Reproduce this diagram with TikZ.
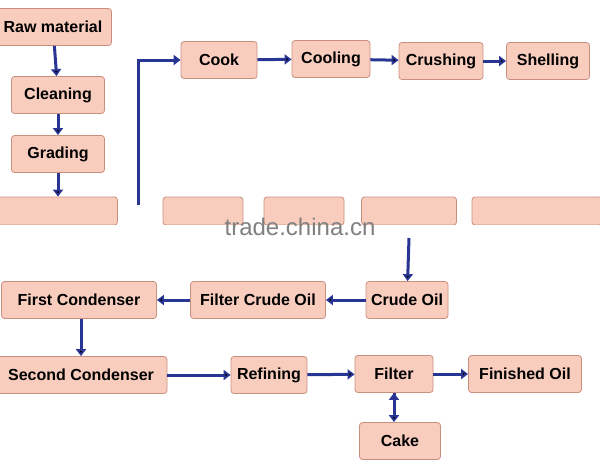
\documentclass[tikz,border=0pt]{standalone}
\usepackage{fontspec}
\setmainfont{Liberation Sans}
\usetikzlibrary{positioning, arrows.meta}
\definecolor{boxfill}{HTML}{F9CDBE}
\definecolor{boxline}{HTML}{C98F7E}
\definecolor{flow}{HTML}{283593}
\tikzset{
stage/.style={draw=boxline, fill=boxfill, rounded corners=3pt, line width=0.8pt,
  font=\fontsize{16}{18}\selectfont\bfseries, inner sep=0pt, minimum height=37pt}, % process boxes
flowarrow/.style={draw=flow, line width=3pt, -{Triangle[length=7pt,width=10pt]}}, % blue arrows
}
\begin{document}
\begin{tikzpicture}[x=1pt, y=-1pt]
  \useasboundingbox (0,0) rectangle (600,467);
  % Top part
  \node[stage, minimum width=117pt] (raw) at (53,27) {Raw material};
  \node[stage, minimum width=93pt] (clean) at (58,95) {Cleaning};
  \node[stage, minimum width=93pt] (grade) at (58,154) {Grading};
  \node[stage, minimum width=76pt] (cook) at (219,60) {Cook};
  \node[stage, minimum width=78pt] (cool) at (331,59) {Cooling};
  \node[stage, minimum width=84pt] (crush) at (441,61) {Crushing};
  \node[stage, minimum width=83pt] (shell) at (548,61) {Shelling};

  % Middle row (cut off)
  \node[stage, minimum width=123pt, minimum height=28pt] (m1) at (56,211) {};
  \node[stage, minimum width=80pt, minimum height=28pt] (m2) at (203,211) {};
  \node[stage, minimum width=80pt, minimum height=28pt] (m3) at (304,211) {};
  \node[stage, minimum width=95pt, minimum height=28pt] (m4) at (409,211) {};
  \node[stage, minimum width=130pt, minimum height=28pt] (m5) at (537,211) {};
  \fill[white] (-2,225) rectangle (602,240);
  \node[text=gray, font=\fontsize{24}{26}\selectfont] (mark) at (300,227) {trade.china.cn};

  % Bottom part
  \node[stage, minimum width=82pt] (crude) at (407,300) {Crude Oil};
  \node[stage, minimum width=135pt] (fco) at (258,300) {Filter Crude Oil};
  \node[stage, minimum width=155pt] (first) at (79,300) {First Condenser};
  \node[stage, minimum width=172pt] (second) at (81,375) {Second Condenser};
  \node[stage, minimum width=76pt] (refine) at (269,375) {Refining};
  \node[stage, minimum width=78pt] (filter) at (394,374) {Filter};
  \node[stage, minimum width=113pt] (fin) at (525,374) {Finished Oil};
  \node[stage, minimum width=81pt] (cake) at (400,441) {Cake};

  \coordinate (up) at (138,205);
  \coordinate (down) at (409,238);

  % Transitions
  \path[flowarrow]
    (raw) edge (clean)
    (clean) edge (grade)
    (grade.south -| clean.south) edge (m1.north -| clean.south)
    (cook) edge (cool)
    (cool) edge (crush)
    (crush) edge (shell)
    (down) edge (crude)
    (crude) edge (fco)
    (fco) edge (first)
    (first.south -| second.north) edge (second.north)
    (second) edge (refine)
    (refine) edge (filter)
    (filter) edge (fin)
    (filter.south) edge (filter.south |- cake.north);
  \draw[flowarrow] (up) |- (cook);
\end{tikzpicture}
\end{document}
